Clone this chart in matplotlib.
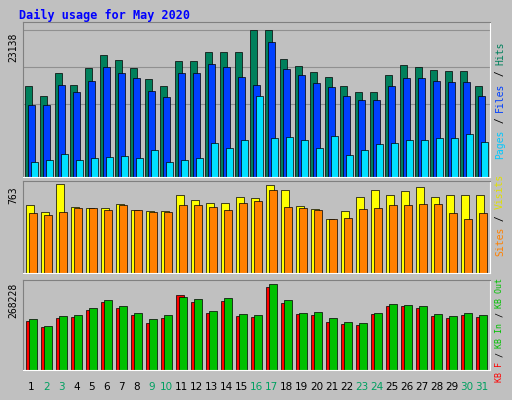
import matplotlib
matplotlib.use("Agg")
import matplotlib.pyplot as plt
import numpy as np

days = list(range(1, 32))
weekend = [2, 3, 9, 10, 16, 17, 23, 24, 30, 31]
hits = [14323,12750,16370,14480,17160,19200,18420,17160,15430,14320,18260,18260,19680,19680,19680,23100,23138,18570,17470,16530,15740,14320,13380,13380,16060,17630,17310,16840,16690,16690,14320]
files = [11330,11330,14480,13380,15110,17310,16370,15580,13540,12590,16370,16370,17790,17310,15740,14480,21250,17000,16060,14800,14170,12750,12120,12120,14320,15580,15580,15110,14950,14950,12750]
pages = [2360,2680,3620,2680,2990,3150,3300,2990,4250,2360,2680,2990,5350,4560,5820,12750,6140,6300,5820,4560,6450,3460,4250,5190,5350,5820,5820,6140,6140,6770,5510]
visits = [583,523,763,566,557,557,591,540,531,531,669,626,600,600,651,643,754,711,574,549,463,531,651,711,669,703,737,651,669,669,669]
sites = [514,497,523,557,557,540,583,540,523,523,583,583,566,540,600,617,711,566,557,540,463,471,549,557,583,583,591,591,514,463,514]
kb_in = [159070,137240,168430,171550,193380,218330,199620,177780,159070,171550,227690,221450,184020,224570,174660,171550,268228,218330,177780,180900,162190,149710,146590,177780,205850,202740,199620,174660,168430,177780,171550]
kb_f = [153000,134000,162000,165500,187000,212000,193500,171500,147000,162000,234000,212000,178000,215500,168500,165500,259000,209000,174500,171500,150000,143500,140500,174500,199500,199500,193500,168500,162000,171500,165500]

W, H = 512, 400
fig = plt.figure(figsize=(W/100, H/100), dpi=100)
fig.patch.set_facecolor("#C0C0C0")
mono = "DejaVu Sans Mono"
fig.text(19/W, 1-15/H, "Daily usage for May 2020", color="#0000FF", fontsize=8.5,
         fontweight="bold", family=mono, va="center")

def mk(y0, y1):
    ax = fig.add_axes([23/W, 1-y1/H, (490-23)/W, (y1-y0)/H])
    ax.set_facecolor("#C0C0C0")
    ax.set_xlim(0.45, 31.55)
    ax.set_xticks([])
    ax.set_yticks([])
    for s in ax.spines.values():
        s.set_color("#808080")
    ax.spines["bottom"].set_color("white"); ax.spines["right"].set_color("white")
    return ax

x = np.array(days, dtype=float)
bw = 0.5
ax1 = mk(22, 177)
ax1.set_ylim(0, 23138 * 155/147)
for g in [23138/2, 23138*0.75, 23138]:
    ax1.axhline(g, color="#909090", lw=0.8, zorder=0)
ax1.bar(x-0.2, hits, bw, color="#00805C", ec="black", lw=0.5)
ax1.bar(x, files, bw, color="#0040FF", ec="black", lw=0.5)
ax1.bar(x+0.2, pages, bw, color="#00E0FF", ec="black", lw=0.5)

ax2 = mk(181, 273)
ax2.set_ylim(0, 763 * 92/89)
ax2.bar(x-0.1, visits, 0.55, color="#FFFF00", ec="black", lw=0.5)
ax2.bar(x+0.1, sites, 0.55, color="#FF8000", ec="black", lw=0.5)

ax3 = mk(280, 370)
ax3.set_ylim(0, 268228 * 90/86)
ax3.bar(x-0.1, kb_f, 0.55, color="#FF0000", ec="black", lw=0.5)
ax3.bar(x+0.1, kb_in, 0.55, color="#00C000", ec="black", lw=0.5)

for lab, yc in [("23138", 47), ("763", 195), ("268228", 300)]:
    fig.text(13/W, 1-yc/H, lab, rotation=90, fontsize=7, family=mono, va="center", ha="center")

def rlabel(parts, ycenter, ch=5.9, fs=7):
    total = sum(len(p[0]) for p in parts)
    y = ycenter + total*ch/2
    for t, c in parts:
        n = len(t)
        fig.text(500/W, 1-(y - n*ch/2)/H, t, rotation=90, color=c, fontsize=fs,
                 family=mono, va="center", ha="center")
        y -= n*ch

rlabel([("Pages", "#00C8FF"), (" / ", "black"), ("Files", "#0040FF"), (" / ", "black"), ("Hits", "#00805C")], 100)
rlabel([("Sites", "#FF8000"), (" / ", "black"), ("Visits", "#E0E000")], 215)
rlabel([("KB F", "#FF0000"), (" / ", "black"), ("KB In", "#00C000"), (" / ", "black"), ("KB Out", "#00C000")], 330, ch=5.0, fs=6)

for d in days:
    xp = 23 + (d - 0.45) / 31.1 * (490-23)
    fig.text(xp/W, 1-387/H, str(d), fontsize=7.5, ha="center", va="center",
             color="#00A060" if d in weekend else "black")

fig.savefig("out.png", dpi=100, facecolor=fig.get_facecolor())
